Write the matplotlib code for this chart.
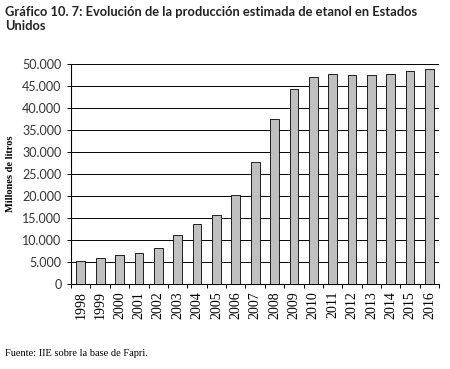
import numpy as np
import matplotlib.pyplot as plt
from matplotlib.ticker import FuncFormatter, MultipleLocator

# Data (millones de litros)
years = ['1998', '1999', '2000', '2001', '2002', '2003', '2004', '2005', '2006',
         '2007', '2008', '2009', '2010', '2011', '2012', '2013', '2014', '2015', '2016']
production = [5230, 6000, 6500, 6950, 8250, 11200, 13600, 15600, 20300,
              27700, 37600, 44400, 47000, 47800, 47600, 47600, 47800, 48500, 48900]

fig = plt.figure(figsize=(4.5, 3.69), dpi=100)
ax = fig.add_axes([0.158, 0.2304, 0.818, 0.5962])

x = np.arange(len(years))
ax.bar(x, production, width=0.45, color='#c0c0c0', edgecolor='black', linewidth=0.6, zorder=3)

ax.set_ylim(0, 50000)
ax.set_xlim(-0.5, len(years) - 0.5)
ax.yaxis.set_major_locator(MultipleLocator(5000))
ax.yaxis.set_major_formatter(FuncFormatter(lambda v, p: f'{int(v):,}'.replace(',', '.')))
ax.grid(axis='y', color='black', linewidth=0.7, zorder=0)

# x ticks between categories, labels centred under bars
ax.set_xticks(np.arange(-0.5, len(years), 1))
ax.set_xticklabels([])
ax.set_xticks(x, minor=True)
ax.set_xticklabels(years, minor=True, rotation=90, family='Liberation Serif', fontsize=10)
ax.tick_params(axis='x', which='major', length=3, width=0.7, direction='out')
ax.tick_params(axis='x', which='minor', length=0, pad=5)
ax.tick_params(axis='y', length=3, width=0.7, direction='out', labelsize=9, pad=4)
for lab in ax.get_yticklabels():
    lab.set_family('Lato')
    lab.set_color('#333333')

for side in ['top', 'right']:
    ax.spines[side].set_visible(False)
ax.spines['left'].set_linewidth(0.8)
ax.spines['bottom'].set_linewidth(0.8)

ax.set_ylabel('Millones de litros', family='Liberation Serif', fontweight='bold', fontsize=7.5, labelpad=5)

fig.text(0.011, 0.985, 'Gráfico 10. 7: Evolución de la producción estimada de etanol en Estados\nUnidos',
         family='Lato', fontweight='bold', fontsize=9.3, va='top', ha='left', color='#222222', linespacing=1.2)
fig.text(0.011, 0.035, 'Fuente: IIE sobre la base de Fapri.', family='Liberation Serif', fontsize=7.5,
         va='baseline', ha='left')

fig.savefig('out.png', dpi=100)
